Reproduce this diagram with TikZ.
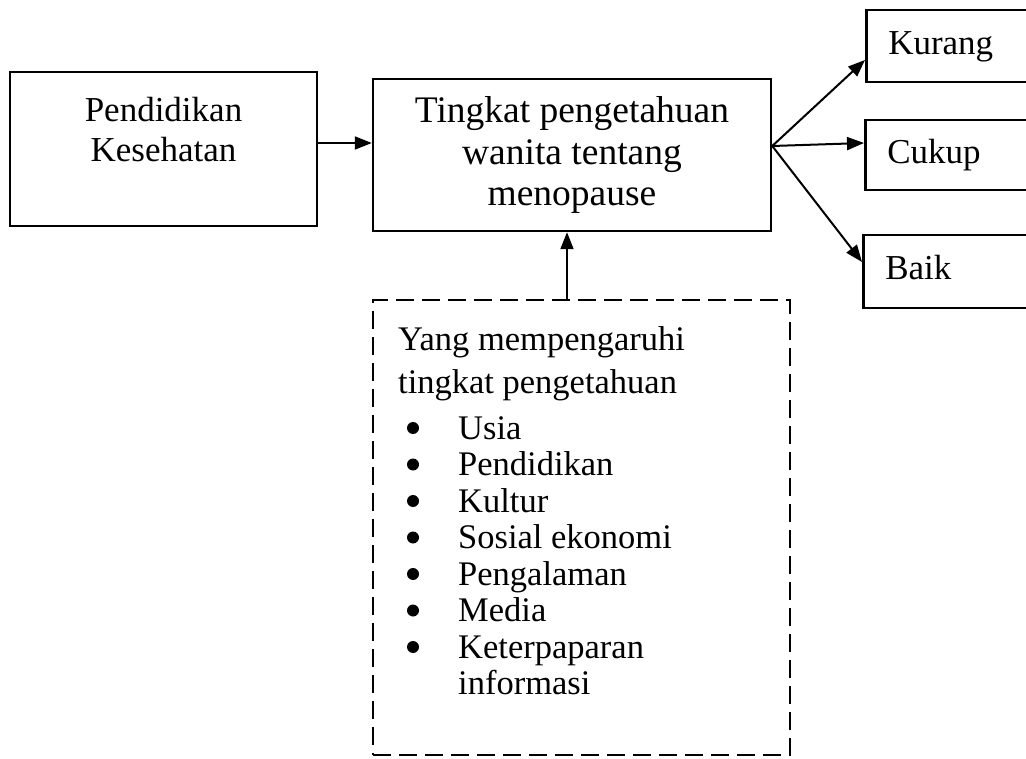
\documentclass[tikz,border=0pt]{standalone}
\usepackage{fontspec}
\setmainfont{Liberation Serif}
\usetikzlibrary{arrows.meta}
\tikzset{
  solidbox/.style={draw, line width=2.5pt, inner sep=0pt},
  rightbox/.style={solidbox, anchor=west, text width=150pt, align=left, inner xsep=22pt, text height=24pt, text depth=7.6pt, font=\fontsize{35}{40}\selectfont},
  conn/.style={line width=2pt, -{Triangle[length=17pt,width=13pt]}},
  listtext/.style={anchor=base west, inner sep=0pt, font=\fontsize{34.5}{38}\selectfont},
  bulletmark/.style={circle, fill=black, minimum size=12pt, inner sep=0pt}
}
\begin{document}
\begin{tikzpicture}[x=1pt,y=-1pt]
\clip (0,0) rectangle (1026,759);
\fill[white] (0,0) rectangle (1026,759);
% main boxes
\node[solidbox, minimum width=307pt, minimum height=154pt, align=center, font=\fontsize{35}{40}\selectfont] (box1) at (163.5,149) {Pendidikan\\Kesehatan\\\mbox{}};
\node[solidbox, minimum width=398pt, minimum height=152pt, align=center, font=\fontsize{37.5}{41.5}\selectfont] (box2) at (572,155) {Tingkat pengetahuan\\wanita tentang\\menopause};
% outcome boxes
\node[rightbox, minimum height=72pt] (kurang) at (865,46) {Kurang};
\node[rightbox, minimum height=70pt] (cukup) at (864,155) {Cukup};
\node[rightbox, minimum height=73pt] (baik) at (862,271.5) {Baik};
% dashed box
\node[draw, line width=2.5pt, dash pattern=on 18pt off 8pt, minimum width=417pt, minimum height=455pt, inner sep=0pt] (faktor) at (581.5,527.5) {};
% list text
\node[listtext] (l1) at (398,351) {Yang mempengaruhi};
\node[listtext] (l2) at (398,393) {tingkat pengetahuan};
\foreach \t [count=\i from 0] in {Usia,Pendidikan,Kultur,Sosial ekonomi,Pengalaman,Media,Keterpaparan}{
  \node[bulletmark] (b\i) at (413,{439-11+36.5*\i}) {};
  \node[listtext] (it\i) at (458,{439+36.5*\i}) {\t};
}
\node[listtext] (it7) at (458,694.5) {informasi};
% connectors
\draw[conn] ([yshift=6pt]box1.east) -- ([yshift=6pt]box1.east -| box2.west);
\coordinate (fan) at ([yshift=9pt]box2.east);
\draw[conn] (fan) -- ([yshift=-14pt]kurang.west);
\draw[conn] (fan) -- ([yshift=12pt]cukup.west);
\draw[conn] (fan) -- ([yshift=9.5pt]baik.west);
\draw[conn] ([xshift=-14.5pt]faktor.north) -- ([xshift=-14.5pt]faktor.north |- box2.south);
\end{tikzpicture}
\end{document}
